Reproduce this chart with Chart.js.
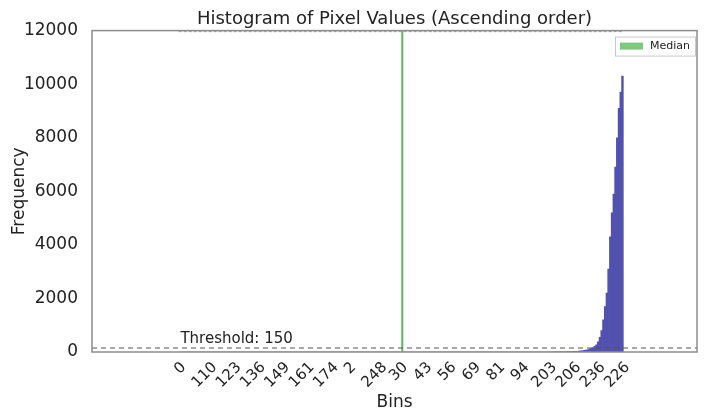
<!DOCTYPE html>
<html>
<head>
<meta charset="utf-8">
<script src="https://cdn.jsdelivr.net/npm/chart.js@4.4.1/dist/chart.umd.min.js"></script>
<style>
  html, body { margin: 0; padding: 0; background: #fff; }
  #wrap { width: 704px; height: 415px; }
</style>
</head>
<body>
<div id="wrap"><canvas id="hist" width="704" height="415"></canvas></div>
<script>
// ==========================
// DATA
// ==========================
// frequency per bin, bins sorted by frequency (ascending)
var binCounts = [
  0, 0, 0, 0, 0, 0, 0, 0, 0, 0, 0, 0, 0, 0, 0, 0, 0, 0,
  0, 0, 0, 0, 0, 0, 0, 0, 0, 0, 0, 0, 0, 0, 0, 0, 0, 0,
  0, 0, 0, 0, 0, 0, 0, 0, 0, 0, 0, 0, 0, 0, 0, 0, 0, 0,
  0, 0, 0, 0, 0, 0, 0, 0, 0, 0, 0, 0, 0, 0, 0, 0, 0, 0,
  0, 0, 0, 0, 0, 0, 0, 0, 0, 0, 0, 0, 0, 0, 0, 0, 0, 0,
  0, 0, 0, 0, 0, 0, 0, 0, 0, 0, 0, 0, 0, 0, 0, 0, 0, 0,
  0, 0, 0, 0, 0, 0, 0, 0, 0, 0, 0, 0, 0, 0, 0, 0, 0, 0,
  0, 0, 0, 0, 0, 0, 0, 0, 0, 0, 0, 0, 0, 0, 0, 0, 0, 0,
  0, 0, 0, 0, 0, 0, 0, 0, 0, 0, 0, 0, 0, 0, 0, 0, 0, 0,
  0, 0, 0, 0, 0, 0, 0, 0, 0, 0, 0, 0, 0, 0, 0, 0, 0, 0,
  0, 0, 0, 0, 0, 0, 0, 0, 0, 0, 0, 0, 0, 0, 0, 0, 0, 0,
  0, 0, 0, 0, 0, 0, 0, 0, 0, 0, 0, 0, 0, 0, 0, 0, 0, 0,
  2, 3, 4, 5, 6, 8, 9, 11, 13, 15, 18, 21, 25, 29, 34, 40,
  48, 58, 70, 85, 105, 130, 165, 210, 270, 380, 550, 800, 1200, 1700, 2200, 3100,
  4300, 5200, 5900, 6900, 8000, 9100, 9700, 10300
];

var tickPositions = [0, 14, 28, 42, 56, 70, 84, 98, 112, 126, 140, 154, 168, 182, 196, 210, 224, 238, 252];
var tickLabels = ['0', '110', '123', '136', '149', '161', '174', '2', '248', '30', '43', '56', '69', '81', '94', '203', '206', '236', '226'];

var yTicks = [0, 2000, 4000, 6000, 8000, 10000, 12000];

var thresholdValue = 150;
var medianBin = 128;
var xRange = [-51, 298];

// ==========================
// DATASETS
// ==========================
var barPoints = binCounts.map(function(v, i) { return { x: i, y: v }; });

var FONT = "'DejaVu Sans', sans-serif";
var TEXT = '#222';
var MEDIAN_FILL = '#7dc97d';

// frame, threshold label, rotated bin labels, legend box
var framePlugin = {
  id: 'frame',
  afterDatasetsDraw: function(chart) {
    var ctx = chart.ctx;
    var a = chart.chartArea;
    var xs = chart.scales.x, ys = chart.scales.y;
    ctx.save();
    ctx.font = '15px ' + FONT;
    ctx.fillStyle = TEXT;
    ctx.textAlign = 'left';
    ctx.textBaseline = 'bottom';
    ctx.fillText('Threshold: ' + thresholdValue, xs.getPixelForValue(0), ys.getPixelForValue(thresholdValue) - 1);
    ctx.strokeStyle = '#8c8c8c';
    ctx.lineWidth = 1.5;
    ctx.strokeRect(a.left, a.top, a.right - a.left, a.bottom - a.top);
    ctx.restore();
  },
  afterDraw: function(chart) {
    var ctx = chart.ctx;
    var a = chart.chartArea;
    var xs = chart.scales.x;

    // bin labels, rotated 45deg, centred under the tick
    ctx.save();
    ctx.font = '15px ' + FONT;
    ctx.fillStyle = TEXT;
    ctx.textAlign = 'center';
    ctx.textBaseline = 'middle';
    tickPositions.forEach(function(p, i) {
      var w = ctx.measureText(tickLabels[i]).width;
      var h = 11;
      var cx = xs.getPixelForValue(p);
      var cy = a.bottom + 9 + (w + h) * 0.3536;
      ctx.save();
      ctx.translate(cx, cy);
      ctx.rotate(-Math.PI / 4);
      ctx.fillText(tickLabels[i], 0, 0);
      ctx.restore();
    });
    ctx.restore();

    // legend
    var bx = a.right - 82, by = a.top + 6, bw = 80, bh = 19;
    ctx.save();
    ctx.fillStyle = '#fff';
    ctx.fillRect(bx, by, bw, bh);
    ctx.strokeStyle = '#c8c8c8';
    ctx.lineWidth = 1;
    ctx.strokeRect(bx + 0.5, by + 0.5, bw, bh);
    ctx.fillStyle = MEDIAN_FILL;
    ctx.fillRect(bx + 5, by + 6, 23, 7);
    ctx.fillStyle = TEXT;
    ctx.font = '11px ' + FONT;
    ctx.textAlign = 'left';
    ctx.textBaseline = 'middle';
    ctx.fillText('Median', bx + 35, by + bh / 2 + 0.5);
    ctx.restore();
  }
};

new Chart(document.getElementById('hist'), {
  type: 'bar',
  data: {
    datasets: [
      {
        type: 'bar',
        label: 'Frequency',
        data: barPoints,
        backgroundColor: '#5151ae',
        borderWidth: 0,
        barPercentage: 1,
        categoryPercentage: 1,
        order: 3
      },
      {
        type: 'line',
        label: 'Threshold',
        data: [{ x: xRange[0], y: thresholdValue }, { x: xRange[1], y: thresholdValue }],
        borderColor: '#555',
        borderWidth: 1.2,
        borderDash: [5, 4],
        pointRadius: 0,
        fill: false,
        order: 1
      },
      {
        type: 'line',
        label: 'Top',
        data: [{ x: -1, y: 11960 }, { x: 255, y: 11960 }],
        borderColor: '#999',
        borderWidth: 1,
        borderDash: [3, 2],
        pointRadius: 0,
        fill: false,
        order: 1
      },
      {
        type: 'line',
        label: 'Median',
        data: [{ x: medianBin, y: 0 }, { x: medianBin, y: 12000 }],
        borderColor: '#5cb85c',
        backgroundColor: MEDIAN_FILL,
        borderWidth: 2,
        pointRadius: 0,
        fill: false,
        order: 2
      }
    ]
  },
  options: {
    responsive: false,
    animation: false,
    layout: { padding: { left: 0, right: 7, top: 0, bottom: 0 } },
    plugins: {
      title: {
        display: true,
        fullSize: false,
        text: 'Histogram of Pixel Values (Ascending order)',
        color: TEXT,
        font: { family: FONT, size: 18, weight: 'normal' },
        padding: { top: 9, bottom: 0 }
      },
      legend: { display: false },
      tooltip: { enabled: false }
    },
    scales: {
      x: {
        type: 'linear',
        min: xRange[0],
        max: xRange[1],
        offset: false,
        grid: { display: false },
        border: { display: false },
        afterBuildTicks: function(scale) {
          scale.ticks = tickPositions.map(function(p) { return { value: p }; });
        },
        afterFit: function(scale) { scale.height = 63; },
        ticks: { display: false },
        title: {
          display: true,
          text: 'Bins',
          color: TEXT,
          font: { family: FONT, size: 17 },
          padding: { top: 0, bottom: 2 }
        }
      },
      y: {
        min: 0,
        max: 12000,
        grid: { display: false },
        border: { display: false },
        afterBuildTicks: function(scale) {
          scale.ticks = yTicks.map(function(v) { return { value: v }; });
        },
        afterFit: function(scale) { scale.width = 92; },
        ticks: {
          padding: 6,
          color: TEXT,
          font: { family: FONT, size: 17 },
          callback: function(value) { return String(value); }
        },
        title: {
          display: true,
          text: 'Frequency',
          color: TEXT,
          font: { family: FONT, size: 17 },
          padding: { top: 9, bottom: 0 }
        }
      }
    }
  },
  plugins: [framePlugin]
});
</script>
</body>
</html>
